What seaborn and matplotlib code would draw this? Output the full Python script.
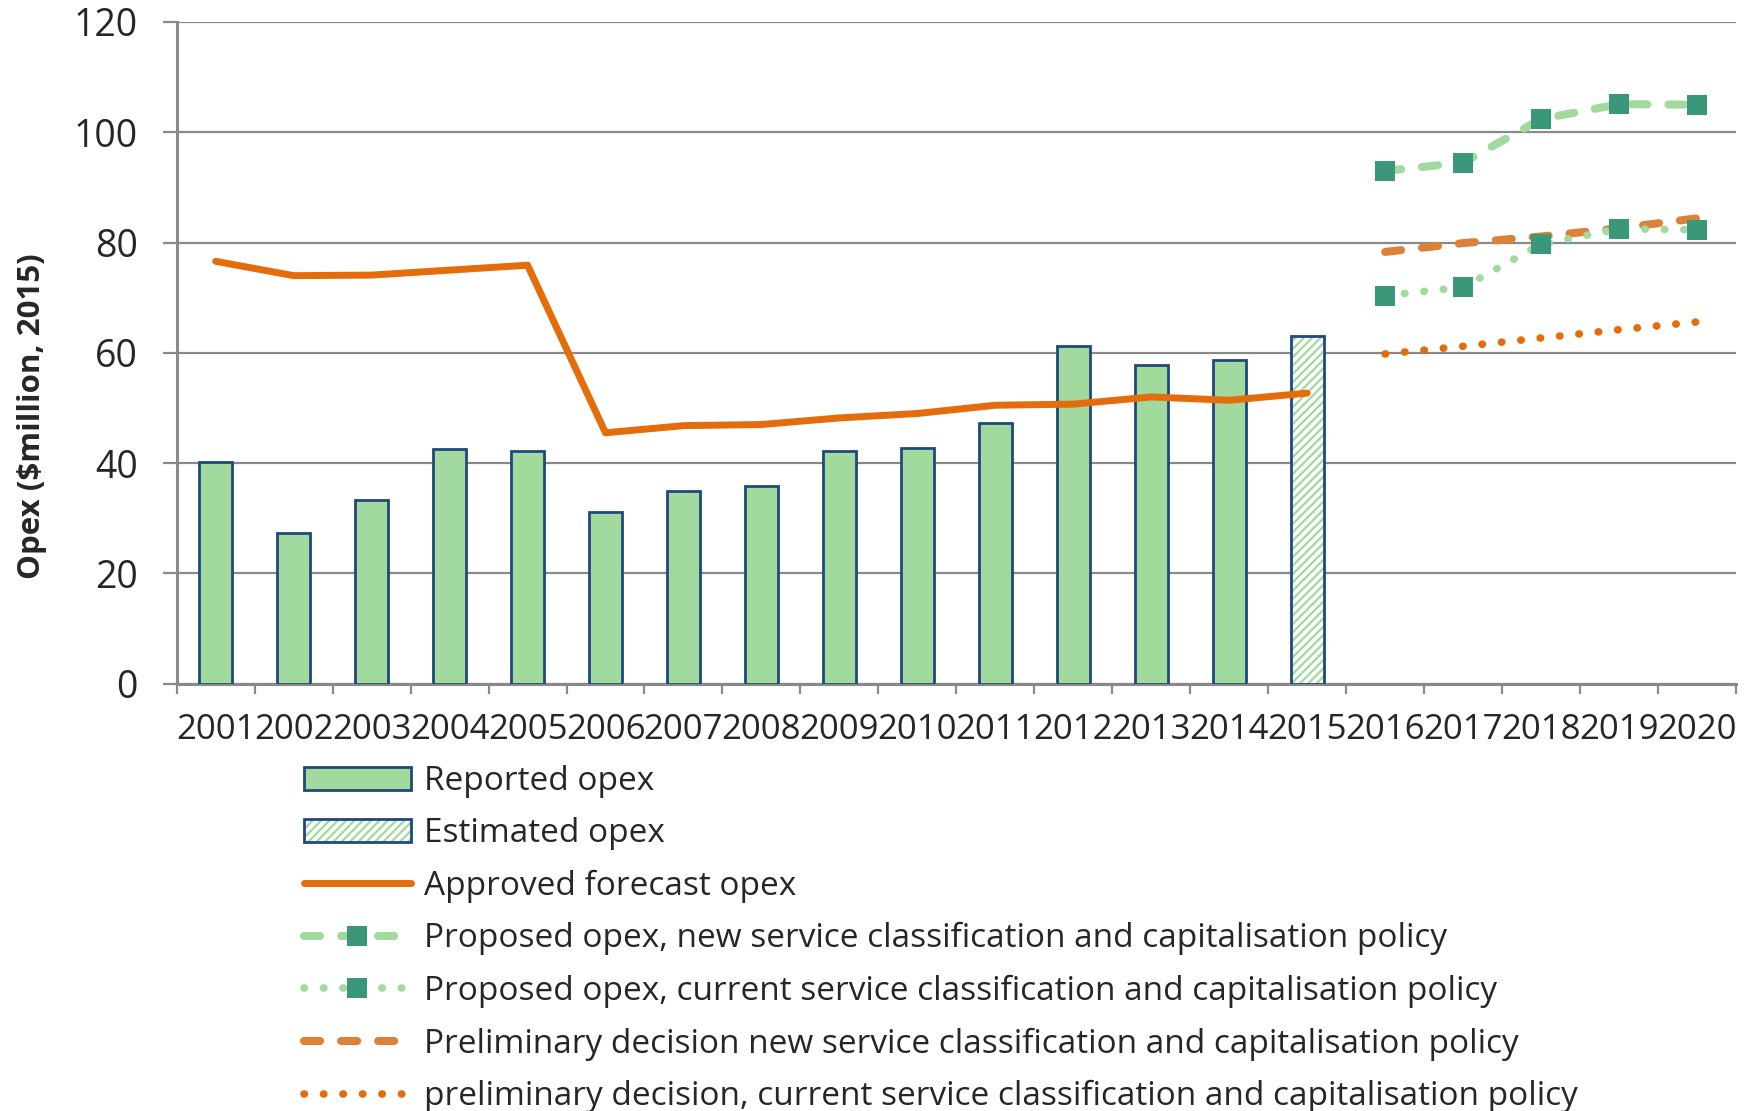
# Opex chart: reported / estimated bars, approved forecast and proposals

import seaborn as sns
import matplotlib.pyplot as plt
from matplotlib.lines import Line2D
from matplotlib.patches import Patch

sns.set_style("white")
plt.rcParams['font.family'] = ['Open Sans', 'DejaVu Sans']
plt.rcParams['hatch.linewidth'] = 1.6

# values ($million, 2015)
years = list(range(2001, 2021))
reported_years = list(range(2001, 2015))
reported = [40.2, 27.4, 33.3, 42.5, 42.2, 31.2, 35.0, 35.9, 42.2, 42.8, 47.3, 61.2, 57.8, 58.7]
estimated_years = [2015]
estimated = [63.1]
approved_years = list(range(2001, 2016))
approved = [76.6, 74.0, 74.1, 75.0, 75.9, 45.5, 46.8, 47.0, 48.2, 49.0, 50.5, 50.7, 52.0, 51.4, 52.7]
forecast_years = [2016, 2017, 2018, 2019, 2020]
proposed_new = [93.0, 94.5, 102.4, 105.1, 105.0]
proposed_cur = [70.4, 71.9, 79.7, 82.5, 82.3]
prelim_new = [78.3, 79.9, 81.1, 82.6, 84.4]
prelim_cur = [59.8, 61.2, 62.7, 64.2, 65.6]

labels = ["Reported opex",
          "Estimated opex",
          "Approved forecast opex",
          "Proposed opex, new service classification and capitalisation policy",
          "Proposed opex, current service classification and capitalisation policy",
          "Preliminary decision new service classification and capitalisation policy",
          "preliminary decision, current service classification and capitalisation policy"]

# colours
bar_green = "#A2D99C"
navy = "#1F497D"
teal = "#3A977A"
orange = "#E46C0A"
orange_dash = "#DC8238"
grid_grey = "#898989"

dash = (0, (2.0, 2.6))
dots = (0, (0.05, 2.5))

W, H = 1751, 1111
fig = plt.figure(figsize=(W / 100, H / 100), dpi=100)
ax = fig.add_axes([176.7 / W, 1 - 683.7 / H, (1736 - 176.7) / W, (683.7 - 22) / H])

# bars
sns.barplot(x=reported_years, y=reported, native_scale=True, width=0.42, saturation=1,
            color=bar_green, edgecolor=navy, linewidth=2, ax=ax, zorder=3)
sns.barplot(x=estimated_years, y=estimated, native_scale=True, width=0.42, saturation=1,
            facecolor="white", edgecolor=bar_green, hatch="////", linewidth=0, ax=ax, zorder=3)
sns.barplot(x=estimated_years, y=estimated, native_scale=True, width=0.42, saturation=1,
            facecolor="none", edgecolor=navy, linewidth=2, ax=ax, zorder=3)

# lines
sns.lineplot(x=approved_years, y=approved, color=orange, linewidth=5,
             solid_capstyle="round", solid_joinstyle="round", ax=ax, zorder=4)
sns.lineplot(x=forecast_years, y=prelim_cur, color=orange, linewidth=5.5, linestyle=dots,
             dash_capstyle="round", ax=ax, zorder=4)
sns.lineplot(x=forecast_years, y=prelim_new, color=orange_dash, linewidth=5.8, linestyle=dash,
             dash_capstyle="round", ax=ax, zorder=4)
sns.lineplot(x=forecast_years, y=proposed_cur, color=bar_green, linewidth=5.5, linestyle=dots,
             dash_capstyle="round", marker="s", markersize=15, markerfacecolor=teal,
             markeredgecolor=teal, markeredgewidth=0, ax=ax, zorder=5)
sns.lineplot(x=forecast_years, y=proposed_new, color=bar_green, linewidth=5.8, linestyle=dash,
             dash_capstyle="round", marker="s", markersize=15, markerfacecolor=teal,
             markeredgecolor=teal, markeredgewidth=0, ax=ax, zorder=5)

# axes
ax.set_xlim(years[0] - 0.5, years[-1] + 0.5)
ax.set_ylim(0, 120)
ax.set_yticks(range(0, 121, 20))
ax.set_xticks([y - 0.5 for y in years] + [years[-1] + 0.5])
ax.set_xticklabels([])
ax.set_xticks(years, minor=True)
ax.set_xticklabels([str(y) for y in years], minor=True)
ax.set_xlabel("")
ax.set_ylabel("")
ax.grid(axis="y", color=grid_grey, linewidth=1.6, zorder=0)
ax.set_axisbelow(True)
for side in ["top", "right"]:
    ax.spines[side].set_visible(False)
for side in ["left", "bottom"]:
    ax.spines[side].set_color(grid_grey)
    ax.spines[side].set_linewidth(2.2)
ax.tick_params(axis="y", which="major", length=10, width=1.6, color=grid_grey,
               labelsize=27, pad=18, left=True)
ax.tick_params(axis="x", which="major", length=7, width=1.6, color=grid_grey, bottom=True)
ax.tick_params(axis="x", which="minor", length=0, labelsize=25, pad=21)

fig.text(32.5 / W, 1 - 416 / H, "Opex ($million, 2015)", rotation=90, ha="center",
         va="center", fontsize=22.5, fontweight="bold")

# legend
handles = [
    Patch(facecolor=bar_green, edgecolor=navy, linewidth=2),
    (Patch(facecolor="white", edgecolor=bar_green, hatch="////", linewidth=0),
     Patch(facecolor="none", edgecolor=navy, linewidth=2)),
    Line2D([], [], color=orange, linewidth=5, solid_capstyle="round"),
    Line2D([], [], color=bar_green, linewidth=5.8, linestyle=dash, dash_capstyle="round",
           marker="s", markersize=15, markerfacecolor=teal, markeredgewidth=0),
    Line2D([], [], color=bar_green, linewidth=5.5, linestyle=dots, dash_capstyle="round",
           marker="s", markersize=15, markerfacecolor=teal, markeredgewidth=0),
    Line2D([], [], color=orange_dash, linewidth=5.8, linestyle=dash, dash_capstyle="round"),
    Line2D([], [], color=orange, linewidth=5.5, linestyle=dots, dash_capstyle="round"),
]
ax.legend(handles=handles, labels=labels, loc="upper left",
          bbox_to_anchor=(304 / W, 1 - 765 / H), bbox_transform=fig.transFigure,
          frameon=False, fontsize=24, handlelength=3.2, handletextpad=0.39,
          labelspacing=0.58, borderpad=0, borderaxespad=0)

fig.savefig("out.png", dpi=100)
